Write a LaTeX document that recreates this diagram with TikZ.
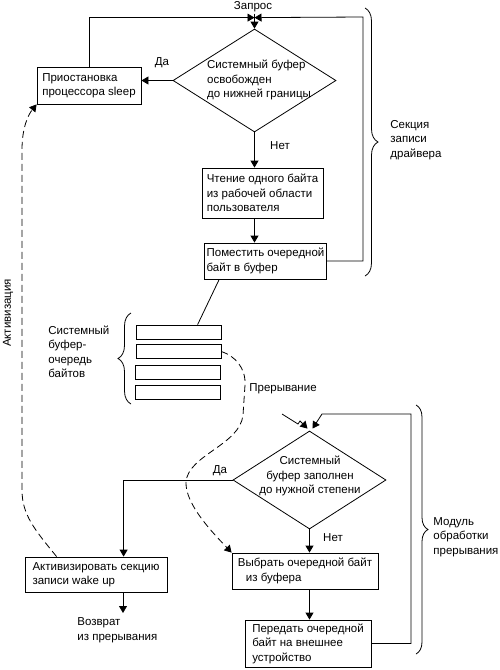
\documentclass[tikz,border=0pt]{standalone}
\usepackage{fontspec}
\setmainfont{Liberation Sans}
\usetikzlibrary{shapes,arrows,arrows.meta,positioning,calc,decorations.pathreplacing}
\tikzset{
  bloc/.style = {draw=black, rectangle, align=left, inner xsep=2pt,
    inner ysep=0pt},% блок действия
  bloc_d/.style = {draw=black, diamond, inner sep=0pt},% блок условия
  cell/.style = {draw=black, rectangle, minimum width=85pt,
    minimum height=14pt, inner sep=0pt},% ячейка буфера
  etiq/.style = {inner sep=0pt, align=left},% подпись
  fl/.style = {-{Triangle[length=7pt,width=8pt]}},% стрелка
  pointille/.style = {dash pattern=on 7pt off 4pt},
  acc/.style = {decorate, decoration={brace, amplitude=#1}}% фигурная скобка
}

\begin{document}
\begin{tikzpicture}[x=1pt, y=-1pt, line width=0.8pt,
                    font=\fontsize{11.5}{14.5}\selectfont]
\useasboundingbox (0,0) rectangle (500,670);

% секция записи драйвера
\node[bloc_d, minimum width=163pt, minimum height=103pt] (d1) at (254.5,80.5) {};
\node[etiq] (d1t) at (259,80) {Системный буфер\\освобожден\\до нижней границы};
\node[bloc, minimum width=104pt, minimum height=37pt] (b1) at (89,85.5) {Приостановка\\процессора sleep};
\node[bloc, minimum width=121pt, minimum height=50pt] (b2) at (262.5,193) {Чтение одного байта\\из рабочей области\\пользователя};
\node[bloc, minimum width=121pt, minimum height=36pt] (b3) at (265.5,261) {Поместить очередной\\байт в буфер};
\coordinate (zap) at ($(d1.north)+(0,-11)$);
\coordinate (zr) at (363,17);

\node[etiq] (zapt) at (253,7) {Запрос};
\node[etiq] (da1) at (162,63) {Да};
\node[etiq] (net1) at (280,146) {Нет};

\draw[fl] (b1.north) |- (zap);
\draw[fl] (b3.east) -| (zr) -- (zap);
\draw[fl] ($(zap)+(0,-4)$) -- (d1.north);
\draw[fl] (d1.west) -- (d1.west -| b1.east);
\draw[fl] (d1.south) -- (d1.south |- b2.north);
\draw[fl] (d1.south |- b2.south) -- (d1.south |- b3.north);

\draw[acc=13pt] (365,8) -- (365,276);
\node[etiq, anchor=west] (sek) at (390,140) {Секция\\записи\\драйвера};

% системный буфер
\node[cell] (r1) at (178.5,332) {};
\node[cell] (r2) at (178.5,351.5) {};
\node[cell] (r3) at (177.5,372.5) {};
\node[cell] (r4) at (177.5,392.5) {};
\draw ($(b3.south west)+(15,0)$) -- ($(r1.north west)+(62,0)$);
\draw[acc=13pt] (131,404) -- (131,313);
\node[etiq, anchor=west] (bufl) at (48,352) {Системный\\буфер-\\очередь\\байтов};

% модуль обработки прерывания
\node[bloc_d, minimum width=153pt, minimum height=98pt] (d2) at (309.5,480) {};
\node[etiq, align=center] (d2t) at (310,476) {Системный\\буфер заполнен\\до нужной степени};
\node[bloc, minimum width=142pt, minimum height=35pt] (bA) at (96,574.5) {Активизировать секцию\\записи wake up};
\node[bloc, minimum width=146pt, minimum height=36pt] (bV) at (305,571) {Выбрать очередной байт\\\hspace{8pt}из буфера};
\node[bloc, minimum width=126pt, minimum height=47pt] (bP) at (308,643.5) {Передать очередной\\байт на внешнее\\устройство};
\coordinate (irq) at (282,414);
\coordinate (pr) at (411,414);
\coordinate (prk) at (322,414);
\coordinate (vozv) at (123,613);

\node[etiq, anchor=west] (prt) at (249,389) {Прерывание};
\node[etiq] (da2) at (220,471) {Да};
\node[etiq] (net2) at (333,538) {Нет};
\node[etiq, anchor=west] (vozvt) at (77,630) {Возврат\\из прерывания};

\draw[fl] (irq) -- (298,424) -- (300,421) -- ($(d2.north)+(-2,-2)$);
\draw[fl] (bP.east) -| (pr) -- (prk) -- ($(d2.north)+(3,-2)$);
\draw[fl] (d2.west) -| ($(bA.north west)+(99,0)$);
\draw[fl] (d2.south) -- (d2.south |- bV.north);
\draw[fl] (d2.south |- bV.south) -- (d2.south |- bP.north);
\draw[fl] (bA.south -| vozv) -- (vozv);

\draw[acc=12pt] (416,405) -- (416,654);
\node[etiq, anchor=west] (modt) at (433,537) {Модуль\\обработки\\прерывания};

% активизация и прерывание
\node[etiq, rotate=90] (akt) at (8,313) {Активизация};
\draw[fl, pointille] ($(bA.north west)+(32,0)$) .. controls (35,530) and (22,515) .. (22,490)
  -- (22,150) .. controls (22,128) and (28,115) .. (b1.south west);
\draw[fl, pointille] (r2.east) .. controls (235,356) and (246,368) .. (245,385)
  -- (243,415) .. controls (240,445) and (188,455) .. (186,482)
  .. controls (185,505) and (215,535) .. (bV.north west);
\end{tikzpicture}
\end{document}
